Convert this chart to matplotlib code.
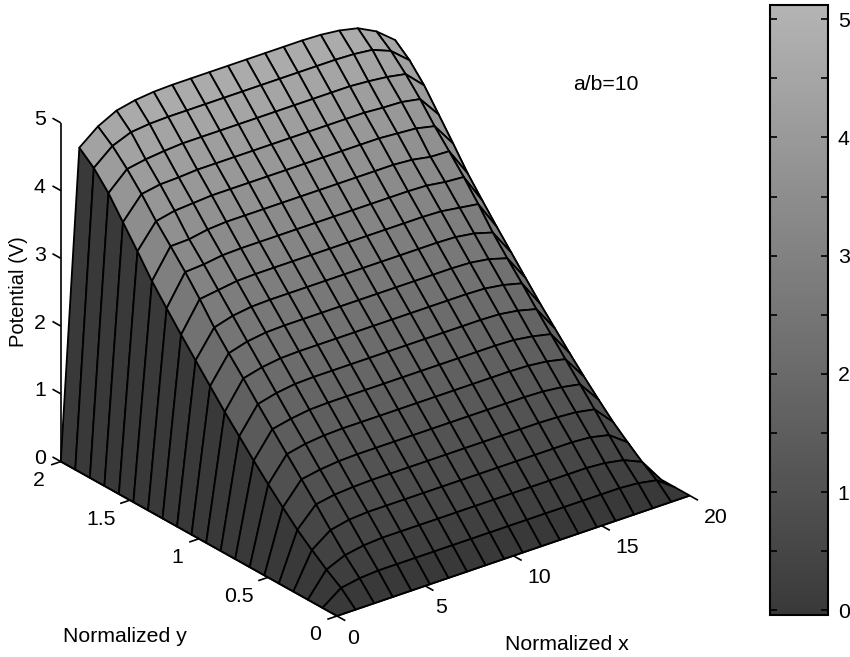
import numpy as np
import matplotlib
matplotlib.use('Agg')
import matplotlib.pyplot as plt
from matplotlib.cm import ScalarMappable
from matplotlib.colors import LinearSegmentedColormap, Normalize
from mpl_toolkits.mplot3d import proj3d

plt.rcParams['font.family'] = ['Liberation Sans', 'DejaVu Sans']

# Grid of the surface, 20 points per side
x_values = [0, 1.053, 2.105, 3.158, 4.211, 5.263, 6.316, 7.368, 8.421, 9.474, 10.526, 11.579,
            12.632, 13.684, 14.737, 15.789, 16.842, 17.895, 18.947, 20]
y_values = [0, .105, .211, .316, .421, .526, .632, .737, .842, .947, 1.053, 1.158,
            1.263, 1.368, 1.474, 1.579, 1.684, 1.789, 1.895, 2]

# Potential, one row per y value, one column per x value
potential = [
    [0, 0, 0, 0, 0, 0, 0, 0, 0, 0, 0, 0, 0, 0, 0, 0, 0, 0, 0, 0],
    [0, .20, .25, .27, .27, .27, .27, .27, .27, .27, .27, .27, .27, .27, .27, .27, .27, .25, .20, 0],
    [0, .35, .47, .52, .54, .54, .54, .54, .54, .54, .54, .54, .54, .54, .54, .54, .52, .47, .35, 0],
    [0, .52, .72, .78, .80, .80, .80, .80, .80, .80, .80, .80, .80, .80, .80, .80, .78, .72, .52, 0],
    [0, .70, .98, 1.03, 1.05, 1.06, 1.06, 1.06, 1.06, 1.06, 1.06, 1.06, 1.06, 1.06, 1.06, 1.05, 1.03, .98, .70, 0],
    [0, .91, 1.23, 1.28, 1.31, 1.32, 1.32, 1.32, 1.32, 1.32, 1.32, 1.32, 1.32, 1.32, 1.32, 1.31, 1.28, 1.23, .91, 0],
    [0, 1.13, 1.48, 1.54, 1.57, 1.58, 1.58, 1.58, 1.58, 1.58, 1.58, 1.58, 1.58, 1.58, 1.58, 1.57, 1.54, 1.48, 1.13, 0],
    [0, 1.36, 1.73, 1.79, 1.83, 1.84, 1.84, 1.84, 1.84, 1.84, 1.84, 1.84, 1.84, 1.84, 1.84, 1.83, 1.79, 1.73, 1.36, 0],
    [0, 1.60, 1.98, 2.05, 2.09, 2.10, 2.10, 2.10, 2.10, 2.10, 2.10, 2.10, 2.10, 2.10, 2.10, 2.09, 2.05, 1.98, 1.60, 0],
    [0, 1.84, 2.24, 2.31, 2.35, 2.36, 2.36, 2.36, 2.36, 2.36, 2.36, 2.36, 2.36, 2.36, 2.36, 2.35, 2.31, 2.24, 1.84, 0],
    [0, 2.10, 2.49, 2.57, 2.61, 2.62, 2.62, 2.62, 2.62, 2.62, 2.62, 2.62, 2.62, 2.62, 2.62, 2.61, 2.57, 2.49, 2.10, 0],
    [0, 2.36, 2.75, 2.83, 2.87, 2.88, 2.88, 2.88, 2.88, 2.88, 2.88, 2.88, 2.88, 2.88, 2.88, 2.87, 2.83, 2.75, 2.36, 0],
    [0, 2.62, 3.05, 3.09, 3.13, 3.14, 3.14, 3.14, 3.14, 3.14, 3.14, 3.14, 3.14, 3.14, 3.14, 3.13, 3.09, 3.05, 2.62, 0],
    [0, 2.89, 3.33, 3.35, 3.39, 3.40, 3.40, 3.40, 3.40, 3.40, 3.40, 3.40, 3.40, 3.40, 3.40, 3.39, 3.35, 3.33, 2.89, 0],
    [0, 3.17, 3.59, 3.60, 3.65, 3.67, 3.67, 3.67, 3.67, 3.67, 3.67, 3.67, 3.67, 3.67, 3.67, 3.65, 3.60, 3.59, 3.17, 0],
    [0, 3.49, 3.84, 3.90, 3.92, 3.94, 3.94, 3.94, 3.94, 3.94, 3.94, 3.94, 3.94, 3.94, 3.94, 3.92, 3.90, 3.84, 3.49, 0],
    [0, 3.80, 4.12, 4.17, 4.18, 4.20, 4.20, 4.20, 4.20, 4.20, 4.20, 4.20, 4.20, 4.20, 4.20, 4.18, 4.17, 4.12, 3.80, 0],
    [0, 4.11, 4.37, 4.42, 4.45, 4.47, 4.47, 4.47, 4.47, 4.47, 4.47, 4.47, 4.47, 4.47, 4.47, 4.45, 4.42, 4.37, 4.11, 0],
    [0, 4.36, 4.59, 4.70, 4.73, 4.74, 4.74, 4.74, 4.74, 4.74, 4.74, 4.74, 4.74, 4.74, 4.74, 4.73, 4.70, 4.59, 4.36, 0],
    [0, 4.54, 4.76, 4.90, 4.96, 4.99, 5.00, 5.00, 5.00, 5.00, 5.00, 5.00, 5.00, 5.00, 4.99, 4.96, 4.90, 4.76, 4.54, 0],
]

x_ticks = [0, 5, 10, 15, 20]
y_ticks = [0, 0.5, 1, 1.5, 2]
z_ticks = [0, 1, 2, 3, 4, 5]
y_tick_labels = ['0', '0.5', '1', '1.5', '2']
bar_ticks = [0, 0.5, 1, 1.5, 2, 2.5, 3, 3.5, 4, 4.5, 5]
bar_tick_labels = ['0', '', '1', '', '2', '', '3', '', '4', '', '5']

W, H = 850, 657
fig = plt.figure(figsize=(W / 100, H / 100), dpi=100)

# gray map as it looks in the scan, the black end is washed out
cmap = LinearSegmentedColormap.from_list('scan_gray', ['#393939', '#b4b4b4'])
norm = Normalize(vmin=-0.04, vmax=5.12)

side = 600
ax = fig.add_axes([0, 0, side / W, side / H], projection='3d')
ax.set_proj_type('ortho')
ax.view_init(elev=25.9, azim=-128)
ax.set_box_aspect((447, 448, 376))
ax.set_xlim(0, 20)
ax.set_ylim(0, 2)
ax.set_zlim(0, 5)
ax.set_axis_off()
ax.patch.set_alpha(0)
ax.computed_zorder = False


def to_pixels(x, y, z):
    xs, ys, _ = proj3d.proj_transform(x, y, z, ax.get_proj())
    return ax.transData.transform((xs, ys))


# scale and shift the axes so the box corners land where the reference has them
ax.apply_aspect()
span = to_pixels(20, 0, 0)[0] - to_pixels(0, 2, 0)[0]
side = side * (689 - 60) / span
ax.set_position([0, 0, side / W, side / H])
ax.apply_aspect()
corner = to_pixels(0, 0, 0)
ax.set_position([(337 - corner[0]) / W, (H - 616 - corner[1]) / H, side / W, side / H])
ax.apply_aspect()

X, Y = np.meshgrid(x_values, y_values)
Z = np.array(potential)
ax.plot_surface(X, Y, Z, rstride=1, cstride=1, facecolors=cmap(norm(Z)), shade=False,
                edgecolor='black', linewidth=1.3, antialiased=True, zorder=1)

# Axis lines and ticks by hand, MATLAB puts them along the box edges
line_kw = dict(color='black', linewidth=1.2, zorder=3, solid_capstyle='butt')
ax.plot([0, 20], [0, 0], [0, 0], **line_kw)
ax.plot([0, 0], [0, 2], [0, 0], **line_kw)
ax.plot([0, 0], [2, 2], [0, 5], **line_kw)
for t in x_ticks:
    ax.plot([t, t], [0, -0.06], [0, 0], **line_kw)
for t in y_ticks:
    ax.plot([0, -0.55], [t, t], [0, 0], **line_kw)
for t in z_ticks:
    ax.plot([0, 0], [2, 2.06], [t, t], **line_kw)

label_size = 15.3
for t in x_ticks:
    dx = 26 if t >= 10 else 16
    ax.annotate(str(t), to_pixels(t, 0, 0), xycoords='figure pixels', xytext=(dx, -22),
                textcoords='offset pixels', ha='center', va='center', fontsize=label_size)
for t, lab in zip(y_ticks, y_tick_labels):
    dx = -29 if '.' in lab else -22
    ax.annotate(lab, to_pixels(0, t, 0), xycoords='figure pixels', xytext=(dx, -19),
                textcoords='offset pixels', ha='center', va='center', fontsize=label_size)
for t in z_ticks:
    ax.annotate(str(t), to_pixels(0, 2, t), xycoords='figure pixels', xytext=(-21, 3),
                textcoords='offset pixels', ha='center', va='center', fontsize=label_size)

fig.text(125 / W, 1 - 637 / H, 'Normalized y', ha='center', va='center', fontsize=label_size)
fig.text(567 / W, 1 - 644 / H, 'Normalized x', ha='center', va='center', fontsize=label_size)
fig.text(19 / W, 1 - 292 / H, 'Potential (V)', ha='center', va='center', rotation=90,
         fontsize=14.5)
fig.text(606 / W, 1 - 85 / H, 'a/b=10', ha='center', va='center', fontsize=label_size)

# Colorbar
cax = fig.add_axes([770 / W, 1 - 615 / H, 58 / W, 610 / H])
cbar = fig.colorbar(ScalarMappable(norm=norm, cmap=cmap), cax=cax)
cbar.set_ticks(bar_ticks)
cbar.set_ticklabels(bar_tick_labels)
cbar.ax.tick_params(direction='in', left=True, right=True, length=4.7, width=1.2,
                    labelsize=label_size, pad=7)
cbar.outline.set_linewidth(1.5)

fig.savefig('out.png', dpi=100)
